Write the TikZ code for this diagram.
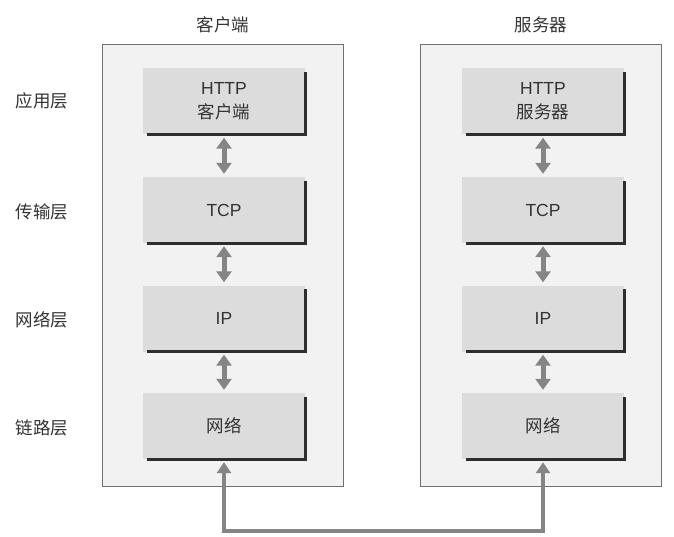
\documentclass[tikz,border=0pt]{standalone}
\usepackage{fontspec}
\setmainfont{Liberation Sans}
\newfontfamily\cjk{Noto Sans CJK SC}
\usetikzlibrary{positioning,arrows.meta}
\definecolor{panelfill}{HTML}{F2F2F2}
\definecolor{panelline}{HTML}{707070}
\definecolor{layerfill}{HTML}{DCDCDC}
\definecolor{shadeline}{HTML}{2E2E2E}
\definecolor{arrowgray}{HTML}{858585}
\definecolor{textgray}{HTML}{333333}
\begin{document}
\begin{tikzpicture}[x=1pt,y=-1pt,
    panel/.style={draw=panelline,fill=panelfill,line width=0.9pt,minimum width=241pt,minimum height=442pt,inner sep=0pt},
    layer/.style={fill=layerfill,minimum width=162pt,minimum height=66pt,inner sep=0pt,align=center,text=textgray,font=\fontsize{17.5}{24}\selectfont},
    shade/.style={draw=shadeline,line width=3pt},
    lbl/.style={text=textgray,font=\fontsize{17.5}{20}\selectfont\cjk},
    updown/.style={draw=arrowgray,line width=5pt,shorten <=3pt,shorten >=3pt,{Triangle[width=15pt,length=11pt]}-{Triangle[width=15pt,length=11pt]}},
    bus/.style={draw=arrowgray,line width=4pt,shorten <=3pt,shorten >=3pt,{Triangle[width=14pt,length=11pt]}-{Triangle[width=14pt,length=11pt]}}]
    \useasboundingbox (0,0) rectangle (674,537);
    % the two hosts
    \node[panel] (client) at (223,265) {};
    \node[panel] (server) at (541,265) {};
    \node[lbl] (clienttitle) at (223,25) {客户端};
    \node[lbl] (servertitle) at (541,25) {服务器};
    % layer names
    \node[lbl] (app)  at (42,101)  {应用层};
    \node[lbl] (tran) at (42,212)  {传输层};
    \node[lbl] (net)  at (42,320)  {网络层};
    \node[lbl] (link) at (42,428)  {链路层};
    % client stack
    \node[layer] (c1) at (224,101.5) {HTTP\\{\cjk 客户端}};
    \node[layer] (c2) at (224,210)   {TCP};
    \node[layer] (c3) at (224,318.5) {IP};
    \node[layer] (c4) at (224,426)   {\cjk 网络};
    % server stack
    \node[layer] (s1) at (543,101.5) {HTTP\\{\cjk 服务器}};
    \node[layer] (s2) at (543,210)   {TCP};
    \node[layer] (s3) at (543,318.5) {IP};
    \node[layer] (s4) at (543,426)   {\cjk 网络};
    \foreach \b in {c1,c2,c3,c4,s1,s2,s3,s4}
        \draw[shade] ([xshift=4pt]\b.south west) -- (\b.south east) -- ([yshift=-4pt]\b.north east);
    \draw[updown] (c1.south) -- (c2.north);
    \draw[updown] (c2.south) -- (c3.north);
    \draw[updown] (c3.south) -- (c4.north);
    \draw[updown] (s1.south) -- (s2.north);
    \draw[updown] (s2.south) -- (s3.north);
    \draw[updown] (s3.south) -- (s4.north);
    \draw[bus] (c4.south) -- ++(0,72) -| (s4.south);
\end{tikzpicture}
\end{document}
